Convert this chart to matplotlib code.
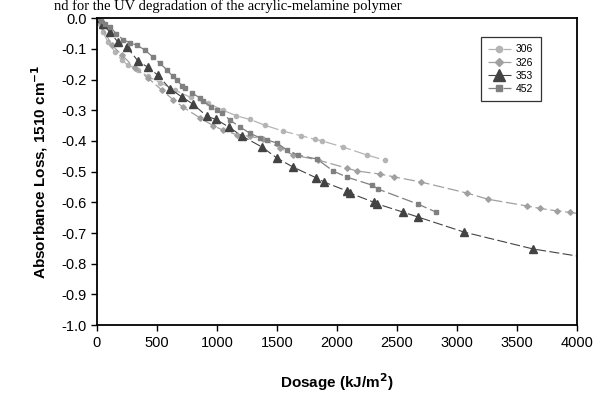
import matplotlib
matplotlib.use("Agg")
import matplotlib.pyplot as plt
import numpy as np

plt.rcParams['font.family'] = ['Liberation Sans', 'DejaVu Sans']

# series 306 (light gray circles)
x306 = [0, 25, 50, 92, 150, 208, 258, 342, 425, 525, 650, 780, 925, 1050, 1160,
        1275, 1400, 1550, 1700, 1817, 1875, 2050, 2250, 2400]
y306 = [0, -0.02, -0.046, -0.078, -0.11, -0.137, -0.153, -0.169, -0.19, -0.21,
        -0.235, -0.258, -0.277, -0.3, -0.318, -0.33, -0.349, -0.368, -0.383,
        -0.395, -0.4, -0.42, -0.446, -0.463]

# series 326 (gray diamonds)
x326 = [0, 42, 125, 208, 317, 425, 542, 633, 717, 858, 967, 1050, 1167, 1275,
        1383, 1525, 1633, 1842, 2083, 2167, 2358, 2475, 2700, 3083, 3258, 3583,
        3692, 3833, 3942, 4000]
y326 = [0, -0.03, -0.088, -0.12, -0.163, -0.195, -0.235, -0.265, -0.29, -0.325,
        -0.35, -0.365, -0.38, -0.385, -0.394, -0.423, -0.446, -0.462, -0.489,
        -0.498, -0.508, -0.517, -0.534, -0.57, -0.59, -0.612, -0.62, -0.628,
        -0.633, -0.636]

# series 353 (dark triangles)
x353 = [0, 50, 108, 175, 250, 342, 425, 508, 608, 708, 800, 917, 992, 1100, 1208,
        1375, 1500, 1633, 1825, 1892, 2083, 2108, 2308, 2333, 2550, 2675, 3058,
        3633, 4000]
y353 = [0, -0.02, -0.046, -0.078, -0.094, -0.14, -0.16, -0.186, -0.23, -0.257,
        -0.28, -0.32, -0.33, -0.355, -0.384, -0.42, -0.456, -0.485, -0.52,
        -0.534, -0.563, -0.57, -0.6, -0.605, -0.632, -0.648, -0.697, -0.752,
        -0.775]

# series 452 (medium gray squares)
x452 = [0, 30, 70, 108, 160, 217, 275, 333, 400, 467, 525, 583, 633, 667, 708,
        733, 792, 858, 883, 950, 1000, 1042, 1108, 1192, 1275, 1358, 1420, 1500,
        1583, 1675, 1833, 1967, 2083, 2292, 2342, 2675, 2825]
y452 = [0, -0.01, -0.02, -0.028, -0.05, -0.07, -0.08, -0.088, -0.104, -0.127,
        -0.147, -0.169, -0.19, -0.202, -0.22, -0.228, -0.244, -0.26, -0.27,
        -0.288, -0.3, -0.31, -0.332, -0.355, -0.375, -0.39, -0.397, -0.407,
        -0.43, -0.446, -0.459, -0.498, -0.518, -0.544, -0.557, -0.606, -0.632]

xticks = np.arange(0, 4001, 500)
yticks = np.round(np.arange(-1.0, 0.01, 0.1), 1)

fig = plt.figure(figsize=(5.95, 3.95), dpi=100)
ax = fig.add_axes([0.163, 0.177, 0.807, 0.777])

dash = (0, (9, 3))
ax.plot(x306, y306, color='#b4b4b4', marker='o', ms=3, lw=0.9, ls=dash, label='306')
ax.plot(x326, y326, color='#a0a0a0', marker='D', ms=2.8, lw=0.9, ls=dash, label='326',
        markevery=list(range(len(x326) - 1)))
ax.plot(x353, y353, color='#434343', marker='^', ms=6, lw=0.8, ls=dash, label='353',
        markevery=list(range(len(x353) - 1)))
ax.plot(x452, y452, color='#808080', marker='s', ms=3.2, lw=0.9, ls=dash, label='452')

ax.set_xlim(0, 4000)
ax.set_ylim(-1.0, 0.0)
ax.set_xticks(xticks)
ax.set_yticks(yticks)
ax.set_yticklabels(['%.1f' % v if v != 0 else '0.0' for v in yticks])
ax.tick_params(direction='out', length=4, width=1, labelsize=10.5, top=False, right=False)
for s in ax.spines.values():
    s.set_linewidth(1.3)

ax.set_xlabel('Dosage (kJ/m$^\\mathbf{2}$)', fontsize=11, fontweight='bold', labelpad=16)
ax.set_ylabel('Absorbance Loss, 1510 cm$^\\mathbf{-1}$', fontsize=11, fontweight='bold', labelpad=8)

leg = ax.legend(loc='upper right', bbox_to_anchor=(0.935, 0.955), fontsize=7.5,
                frameon=True, fancybox=False, edgecolor='black', handlelength=2.2,
                borderpad=0.7, labelspacing=0.3, handletextpad=0.5, markerscale=1.5)
leg.get_frame().set_linewidth(0.9)

fig.text(0.09, 1 - 10 / 395, 'nd for the UV degradation of the acrylic-melamine polymer',
         family='Liberation Serif', fontsize=10.5, va='baseline', ha='left')

fig.savefig('out.png', dpi=100)
